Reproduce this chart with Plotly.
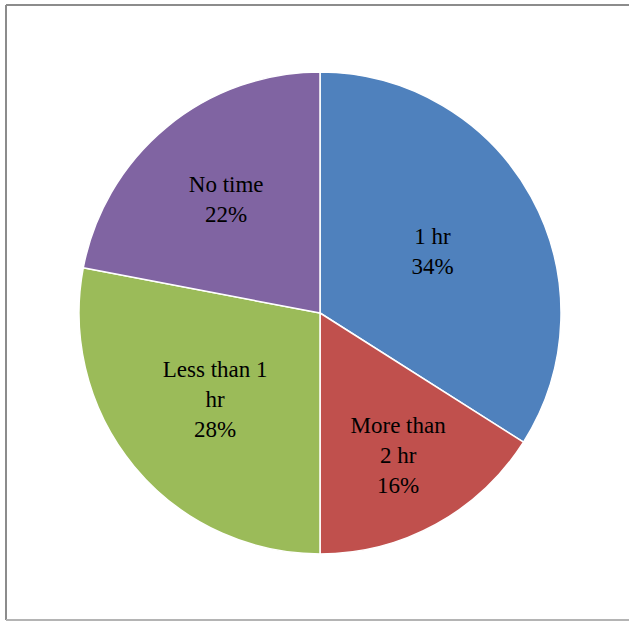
import plotly.graph_objects as go

# Time spent categories and their shares (%)
categories = ["1 hr", "More than<br>2 hr", "Less than 1<br>hr", "No time"]
shares = [34, 16, 28, 22]
colors = ["#4F81BD", "#C0504D", "#9BBB59", "#8064A2"]

W, H = 629, 622
cx, cy, r = 320, 313, 241

fig = go.Figure(
    go.Pie(
        labels=categories,
        values=shares,
        sort=False,
        direction="clockwise",
        rotation=0,
        marker=dict(colors=colors, line=dict(color="white", width=1.5)),
        textinfo="label+percent",
        textposition="inside",
        insidetextorientation="horizontal",
        textfont=dict(family="Liberation Serif", size=23, color="black"),
        showlegend=False,
        hoverinfo="label+percent",
        domain=dict(
            x=[(cx - r) / W, (cx + r) / W],
            y=[1 - (cy + r) / H, 1 - (cy - r) / H],
        ),
    )
)

# chart-area frame: left, top and bottom edges (right edge lies off the page)
fx0, fy_top, fy_bot = 6 / W, 1 - 5 / H, 1 - 620 / H
frame = [
    (fx0, fy_bot, fx0, fy_top, "#8C8C8C"),
    (fx0, fy_top, 1, fy_top, "#8C8C8C"),
    (fx0, fy_bot, 1, fy_bot, "#B4B4B4"),
]
for x0, y0, x1, y1, c in frame:
    fig.add_shape(type="line", xref="paper", yref="paper",
                  x0=x0, y0=y0, x1=x1, y1=y1, line=dict(color=c, width=2))

fig.update_layout(
    width=W, height=H,
    margin=dict(l=0, r=0, t=0, b=0),
    paper_bgcolor="white",
    plot_bgcolor="white",
)

fig.write_html("out.html")
